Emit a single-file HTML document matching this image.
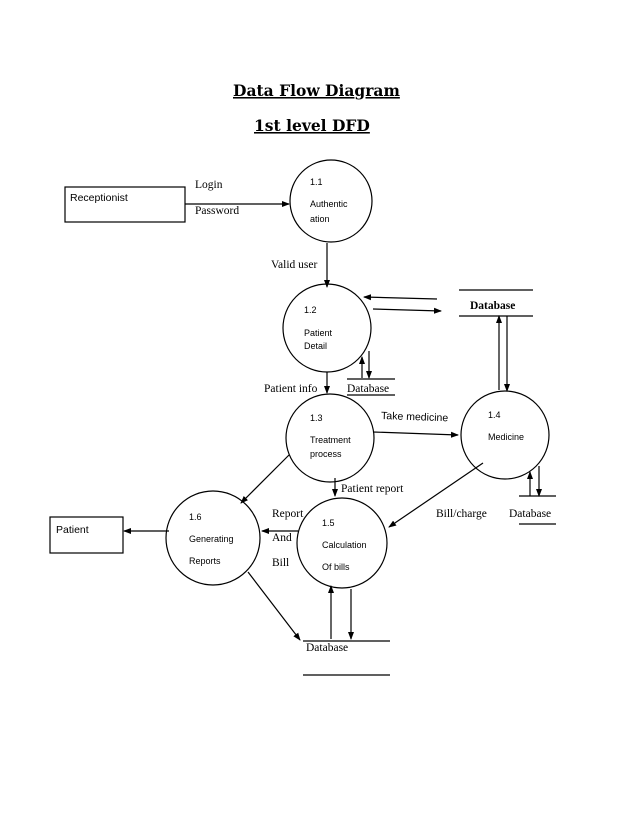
<!DOCTYPE html>
<html><head><style>
body{margin:0;background:#fff;}
svg text{font-family:"Liberation Serif",serif;fill:#000;}
svg text.s{font-family:"Liberation Sans",sans-serif;font-size:9px;}
svg text.m{font-family:"Liberation Sans",sans-serif;font-size:10.5px;}
svg text.t{font-family:"DejaVu Serif","Liberation Serif",serif;font-weight:bold;font-size:15.5px;}
</style></head><body>
<svg width="638" height="826" viewBox="0 0 638 826" xmlns="http://www.w3.org/2000/svg">
<defs><marker id="a" markerWidth="8" markerHeight="8" refX="7" refY="4" orient="auto" markerUnits="userSpaceOnUse"><path d="M0,1 L8,4 L0,7 z" fill="#000"/></marker></defs>
<text class="t" x="233" y="96" text-decoration="underline">Data Flow Diagram</text>
<text class="t" x="254" y="131" text-decoration="underline">1st level DFD</text>
<g fill="none" stroke="#000" stroke-width="1.2">
<rect x="65" y="187" width="120" height="35"/>
<rect x="50" y="517" width="73" height="36"/>
<circle cx="331" cy="201" r="41"/>
<circle cx="327" cy="328" r="44"/>
<circle cx="330" cy="438" r="44"/>
<circle cx="505" cy="435" r="44"/>
<circle cx="342" cy="543" r="45"/>
<circle cx="213" cy="538" r="47"/>
<path d="M459 290H533M459 316H533"/>
<path d="M347 379H395M347 395H395"/>
<path d="M519 496H556M519 524H556"/>
<path d="M303 641H390M303 675H390"/>
<path d="M185 204H289" marker-end="url(#a)"/>
<path d="M327 243V287" marker-end="url(#a)"/>
<path d="M437 299L364 297" marker-end="url(#a)"/>
<path d="M373 309L441 311" marker-end="url(#a)"/>
<path d="M362 378V357" marker-end="url(#a)"/>
<path d="M369 351V378" marker-end="url(#a)"/>
<path d="M327 372V393" marker-end="url(#a)"/>
<path d="M373 432L458 435" marker-end="url(#a)"/>
<path d="M499 390V316" marker-end="url(#a)"/>
<path d="M507 316V391" marker-end="url(#a)"/>
<path d="M530 496V472" marker-end="url(#a)"/>
<path d="M539 466V496" marker-end="url(#a)"/>
<path d="M335 478V496" marker-end="url(#a)"/>
<path d="M483 463L389 527" marker-end="url(#a)"/>
<path d="M289 455L241 503" marker-end="url(#a)"/>
<path d="M298 531H262" marker-end="url(#a)"/>
<path d="M169 531H124" marker-end="url(#a)"/>
<path d="M248 572L300 640" marker-end="url(#a)"/>
<path d="M331 639V586" marker-end="url(#a)"/>
<path d="M351 589V639" marker-end="url(#a)"/>
</g>
<g font-size="11.5">
<text x="195" y="188">Login</text>
<text x="195" y="214">Password</text>
<text x="271" y="268">Valid user</text>
<text x="264" y="392">Patient info</text>
<text x="347" y="392">Database</text>
<text x="341" y="492">Patient report</text>
<text x="272" y="517">Report</text>
<text x="272" y="541">And</text>
<text x="272" y="566">Bill</text>
<text x="436" y="517">Bill/charge</text>
<text x="509" y="517">Database</text>
<text x="306" y="651">Database</text>
<text x="470" y="309" font-weight="bold">Database</text>
</g>
<text class="m" x="70" y="201">Receptionist</text>
<text class="m" x="56" y="533">Patient</text>
<text class="m" x="381" y="419" transform="rotate(2 381 419)">Take medicine</text>
<text class="s" x="310" y="185">1.1</text><text class="s" x="310" y="207">Authentic</text><text class="s" x="310" y="222">ation</text>
<text class="s" x="304" y="313">1.2</text><text class="s" x="304" y="336">Patient</text><text class="s" x="304" y="349">Detail</text>
<text class="s" x="310" y="421">1.3</text><text class="s" x="310" y="443">Treatment</text><text class="s" x="310" y="457">process</text>
<text class="s" x="488" y="418">1.4</text><text class="s" x="488" y="440">Medicine</text>
<text class="s" x="322" y="526">1.5</text><text class="s" x="322" y="548">Calculation</text><text class="s" x="322" y="570">Of bills</text>
<text class="s" x="189" y="520">1.6</text><text class="s" x="189" y="542">Generating</text><text class="s" x="189" y="564">Reports</text>
</svg>
</body></html>
